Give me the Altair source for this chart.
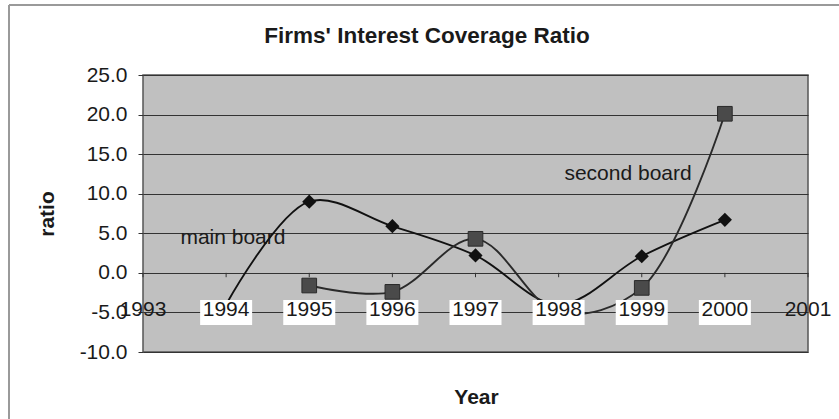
import altair as alt
import pandas as pd

# Interest coverage ratio by year
main_years = [1994, 1995, 1996, 1997, 1998, 1999, 2000]
main_ratio = [-4.0, 9.0, 5.9, 2.2, -4.0, 2.1, 6.7]

second_years = [1995, 1996, 1997, 1998, 1999, 2000]
second_ratio = [-1.6, -2.4, 4.3, -5.0, -1.9, 20.1]

year_labels = [1993, 1994, 1995, 1996, 1997, 1998, 1999, 2000, 2001]
boxed_labels = [1994, 1995, 1996, 1997, 1998, 1999, 2000]
ratio_ticks = [-10, -5, 0, 5, 10, 15, 20, 25]

series_names = ["main board", "second board"]
series_label_year = [1993.45, 1998.07]
series_label_ratio = [4.4, 12.5]

chart_title = "Firms' Interest Coverage Ratio"

FONT = "Liberation Sans"
INK = "#1a1a1a"
W, H = 665, 277

main_df = pd.DataFrame({"Year": main_years, "ratio": main_ratio})
second_df = pd.DataFrame({"Year": second_years, "ratio": second_ratio})
labels_df = pd.DataFrame({"Year": year_labels, "ratio": -5.0})
boxes_df = pd.DataFrame({"Year": boxed_labels, "ratio": -5.0})
names_df = pd.DataFrame({"Year": series_label_year, "ratio": series_label_ratio,
                         "name": series_names})
title_df = pd.DataFrame({"title": [chart_title]})

x_scale = alt.Scale(domain=[1993, 2001], nice=False, zero=False)
y_scale = alt.Scale(domain=[-10, 25], nice=False, zero=False)

x_axis = alt.Axis(title="Year", labels=False, ticks=False, domain=False,
                  grid=False, titleFont=FONT, titleFontSize=21,
                  titleFontWeight="bold", titleColor=INK,
                  titleX=333, titleY=45, titleBaseline="middle")
y_axis = alt.Axis(title="ratio", values=ratio_ticks, format=".1f",
                  labelExpr="replace(format(datum.value, '.1f'), '\u2212', '-')",
                  labelOverlap=False, labelFont=FONT, labelFontSize=21,
                  labelColor=INK, labelPadding=11, tickSize=5, tickColor="#333",
                  domain=False, grid=True, gridColor="#333", gridWidth=1,
                  titleFont=FONT, titleFontSize=21, titleFontWeight="bold",
                  titleColor=INK, titleX=-96, titleY=138.5,
                  titleAngle=-90, titleBaseline="middle")

X = alt.X("Year:Q", scale=x_scale, axis=x_axis)
Y = alt.Y("ratio:Q", scale=y_scale, axis=y_axis)

# small category ticks hanging below the zero line
zero_ticks = alt.Chart(labels_df).mark_rule(color="#333", strokeWidth=1).encode(
    x=X, y=alt.Y(datum=0, scale=y_scale, axis=y_axis), y2=alt.datum(-0.55))

names = alt.Chart(names_df).mark_text(
    align="left", baseline="middle", font=FONT, fontSize=21, color=INK
).encode(x=X, y=Y, text="name:N")

main_line = alt.Chart(main_df).mark_line(
    interpolate="catmull-rom", color="#111", strokeWidth=1.9).encode(x=X, y=Y)
second_line = alt.Chart(second_df).mark_line(
    interpolate="catmull-rom", color="#2a2a2a", strokeWidth=1.9).encode(x=X, y=Y)

main_pts = alt.Chart(main_df[main_df.Year.isin([1995, 1996, 1997, 1999, 2000])]).mark_point(
    shape="diamond", filled=True, size=200, color="#111", opacity=1
).encode(x=X, y=Y)
second_pts = alt.Chart(second_df[second_df.Year != 1998]).mark_point(
    shape="square", filled=True, size=215, color="#4a4a4a", stroke="#2a2a2a",
    strokeWidth=1, opacity=1
).encode(x=X, y=Y)

boxes = alt.Chart(boxes_df).mark_rect(width=52, height=25, color="white").encode(
    x=X, y=Y)

year_text = alt.Chart(labels_df).mark_text(
    font=FONT, fontSize=21, color=INK, baseline="middle", dy=-2
).encode(x=X, y=Y, text=alt.Text("Year:Q", format="d"))

# chart heading above the plot area
heading = alt.Chart(title_df).mark_text(
    font=FONT, fontSize=22.5, fontWeight="bold", color=INK,
    align="center", baseline="alphabetic"
).encode(x=alt.value(284), y=alt.value(-32), text="title:N")

# outer chart frame
frame_left = alt.Chart(labels_df).mark_rule(color="#9a9a9a", strokeWidth=1.5).encode(
    x=alt.value(-134), y=alt.value(-70), y2=alt.value(344))
frame_top = alt.Chart(labels_df).mark_rule(color="#9a9a9a", strokeWidth=1.5).encode(
    x=alt.value(-134), x2=alt.value(696), y=alt.value(-70))

chart = alt.layer(
    zero_ticks, names, main_line, second_line, main_pts, second_pts,
    boxes, year_text, heading, frame_left, frame_top
).properties(
    width=W, height=H,
    autosize=alt.AutoSizeParams(type="none"),
    padding={"left": 143, "top": 75, "right": 31, "bottom": 67},
    background="white",
).configure_view(
    fill="#c0c0c0", stroke="#555", strokeWidth=1.5
)

chart.save("out.html", embed_options={"renderer": "svg", "actions": False})
